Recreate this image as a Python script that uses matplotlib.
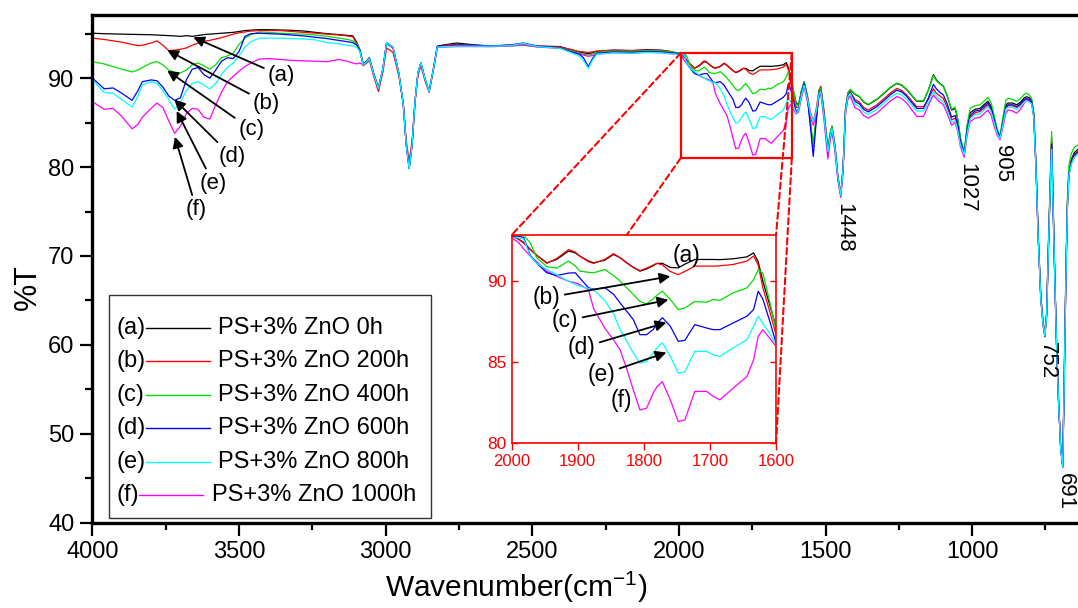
import matplotlib
matplotlib.use("Agg")
import matplotlib.pyplot as plt
from matplotlib.patches import Rectangle, ConnectionPatch
from matplotlib.ticker import MultipleLocator

plt.rcParams['font.family'] = ['Liberation Sans', 'DejaVu Sans']
plt.rcParams['mathtext.default'] = 'regular'

# ---------------------------------------------------------------- data
# wavenumber grid (cm-1), shared by all six spectra
wavenumber = [
    4000, 3960, 3930, 3900, 3865, 3845, 3830, 3800, 3780, 3760, 3740, 3720,
    3700, 3680, 3660, 3640, 3620, 3600, 3580, 3560, 3540, 3520, 3500, 3480,
    3460, 3430, 3400, 3360, 3320, 3280, 3240, 3200, 3160, 3130, 3112, 3100,
    3088, 3077, 3065, 3056, 3040, 3025, 3010, 2997, 2975, 2955, 2940, 2930,
    2920, 2910, 2900, 2890, 2880, 2866, 2852, 2838, 2824, 2800, 2758, 2700,
    2644, 2580, 2531, 2480, 2405, 2371, 2340, 2326, 2309, 2295, 2280, 2224,
    2160, 2110, 2060, 2030,
    2000, 1990, 1982, 1972, 1962, 1947, 1932, 1914, 1904, 1897, 1884, 1876,
    1859, 1846, 1836, 1826, 1816, 1806, 1796, 1786, 1780, 1772, 1760, 1748,
    1738, 1723, 1705, 1695, 1685, 1665, 1644, 1634, 1627, 1620, 1610, 1600,
    1592, 1582, 1573, 1562, 1550, 1542, 1532, 1522, 1516, 1505, 1492, 1484,
    1478, 1468, 1458, 1448, 1440, 1432, 1424, 1416,
    1400, 1384, 1370, 1354, 1340, 1325, 1300, 1280, 1257, 1240, 1223, 1205,
    1189, 1166, 1150, 1140, 1132, 1122, 1110, 1098, 1085, 1070, 1058, 1050,
    1040, 1027, 1017, 1007, 990, 973, 960, 946, 935, 925, 915, 905,
    895, 885, 877, 862, 848, 835, 822, 814, 805, 797,
    790, 782, 775, 766, 758, 752, 746, 740, 734, 729, 724, 718,
    712, 705, 698, 691, 686, 680, 675, 670, 662, 652, 639,
]

# %T of each sample
t_0h = [
    95.05, 95.0, 94.98, 94.95, 94.92, 94.9, 94.9, 94.88, 94.85, 94.82, 94.78, 94.75,
    94.7, 94.78, 94.7, 94.8, 94.9, 94.95, 95.0, 95.05, 95.1, 95.15, 95.25, 95.35,
    95.4, 95.45, 95.45, 95.42, 95.38, 95.3, 95.15, 95.0, 94.9, 94.8, 94.75, 94.1,
    93.2, 91.6, 91.9, 92.25, 90.4, 88.85, 91.0, 93.95, 93.4, 90.5, 87.0, 82.5,
    79.9, 82.5, 87.4, 90.6, 91.7, 89.9, 88.5, 90.9, 93.6, 93.75, 93.95, 93.75,
    93.6, 93.7, 93.8, 93.6, 93.55, 93.2, 92.9, 92.85, 92.75, 92.85, 93.0, 93.15,
    93.1, 93.2, 93.15, 93.0,
    92.78, 92.6, 92.4, 91.96, 91.6, 91.13, 91.34, 91.86, 91.75, 91.55, 91.25, 91.13,
    91.3, 91.65, 91.45, 91.13, 90.85, 90.62, 90.75, 90.95, 91.1, 91.1, 90.85, 90.82,
    91.05, 91.34, 91.34, 91.34, 91.33, 91.38, 91.5, 91.75, 91.2, 90.0, 88.6, 87.2,
    87.0, 88.6, 89.6, 88.0, 84.5, 82.3, 85.5, 88.6, 88.9, 86.0, 82.0, 83.8,
    84.6, 82.5, 79.0, 76.9, 80.0, 86.5, 88.3, 88.7,
    88.2, 87.9, 87.3, 87.0, 87.3, 87.6, 88.3, 88.9, 89.4, 89.2, 88.7, 88.0,
    87.4, 87.4, 88.6, 89.6, 90.4, 89.8, 89.4, 89.1, 88.0, 86.4, 86.6, 85.5,
    83.2, 81.6, 84.5, 86.1, 86.5, 86.6, 87.0, 87.4, 86.8, 85.5, 84.2, 83.4,
    85.3, 87.0, 87.2, 87.2, 87.0, 87.3, 87.8, 87.9, 87.8, 87.5,
    86.0, 80.0, 72.5, 65.5, 62.5, 61.2, 63.5, 71.0, 78.0, 83.4, 76.0, 67.5,
    60.0, 53.5, 48.5, 46.4, 56.0, 68.5, 76.0, 79.5, 80.8, 81.6, 82.0,
]

t_200h = [
    94.5, 94.35, 94.2, 94.05, 93.8, 93.65, 93.7, 93.95, 94.2, 93.7, 93.1, 93.15,
    93.25, 93.4, 93.7, 93.95, 94.15, 94.25, 94.4, 94.55, 94.75, 94.95, 95.1, 95.2,
    95.3, 95.35, 95.35, 95.35, 95.25, 95.15, 95.05, 94.95, 94.85, 94.75, 94.65, 93.95,
    93.1, 91.4, 91.7, 92.0, 90.1, 88.5, 90.6, 93.4, 92.9, 90.2, 87.2, 83.0,
    80.6, 83.0, 87.4, 90.3, 91.4, 89.7, 88.4, 90.8, 93.5, 93.7, 93.8, 93.7,
    93.6, 93.7, 93.8, 93.6, 93.5, 93.25, 93.0, 92.95, 92.9, 92.95, 93.05, 93.15,
    93.1, 93.15, 93.1, 93.0,
    92.78, 92.6, 92.35, 91.96, 91.6, 91.1, 91.4, 91.95, 91.8, 91.55, 91.2, 91.1,
    91.35, 91.7, 91.45, 91.15, 90.85, 90.65, 90.8, 91.0, 91.1, 91.0, 90.6, 90.41,
    90.6, 90.93, 90.93, 90.93, 90.95, 91.03, 91.24, 91.55, 91.0, 89.6, 88.2, 86.7,
    86.7, 88.5, 89.5, 88.0, 86.0, 85.1, 86.5, 88.7, 89.1, 86.3, 81.8, 83.6,
    84.3, 82.3, 78.9, 76.85, 80.0, 86.3, 88.0, 88.5,
    87.6, 87.3, 86.7, 86.4, 86.7, 87.0, 87.7, 88.3, 88.85, 88.6, 88.1, 87.4,
    86.8, 86.8, 87.6, 88.3, 88.8, 88.3, 88.0, 87.7, 86.7, 85.3, 85.5, 84.6,
    82.7, 81.5, 84.0, 85.6, 86.1, 86.25, 86.6, 87.0, 86.4, 85.2, 84.0, 83.35,
    85.0, 86.7, 86.9, 86.9, 86.7, 87.0, 87.5, 87.65, 87.5, 87.25,
    85.8, 79.8, 72.4, 65.4, 62.4, 61.2, 63.4, 70.8, 77.6, 83.0, 75.8, 67.4,
    59.9, 53.4, 48.4, 46.35, 56.0, 68.3, 75.8, 79.3, 80.6, 81.4, 81.8,
]

t_400h = [
    91.85, 91.6, 91.3, 91.0, 90.7, 90.9, 91.2, 91.7, 91.85, 91.5, 90.9, 90.65,
    90.6, 90.9, 91.5, 91.7, 91.4, 91.0, 91.5, 92.3, 92.5, 92.8, 93.8, 94.5,
    94.9, 95.2, 95.15, 95.05, 95.0, 94.95, 94.85, 94.7, 94.5, 94.35, 94.2, 93.9,
    93.2, 91.6, 91.9, 92.25, 90.4, 88.85, 91.0, 93.9, 93.4, 90.5, 87.0, 82.5,
    79.85, 82.5, 87.4, 90.6, 91.7, 89.9, 88.5, 90.9, 93.5, 93.55, 93.6, 93.6,
    93.55, 93.6, 93.7, 93.5, 93.4, 93.1, 92.85, 92.7, 92.6, 92.7, 92.9, 93.05,
    93.0, 93.1, 93.05, 92.95,
    92.85, 92.85, 92.85, 92.37, 91.44, 90.9, 90.8, 91.24, 90.95, 90.62, 90.55, 90.52,
    90.72, 90.35, 90.0, 89.6, 89.18, 88.75, 88.6, 88.9, 89.15, 89.38, 88.87, 88.25,
    88.35, 88.75, 88.7, 88.87, 88.82, 89.28, 89.59, 90.1, 90.7, 90.5, 88.8, 87.0,
    86.9, 88.6, 89.6, 88.0, 84.6, 82.4, 85.5, 88.6, 88.9, 86.0, 82.0, 83.8,
    84.6, 82.5, 79.0, 76.9, 80.0, 86.5, 88.3, 88.75,
    88.25, 87.95, 87.35, 87.05, 87.35, 87.65, 88.35, 88.95, 89.45, 89.25, 88.75, 88.05,
    87.45, 87.45, 88.6, 89.5, 90.3, 89.7, 89.35, 89.05, 88.0, 86.5, 86.75, 85.6,
    83.3, 81.6, 84.8, 86.6, 86.9, 87.0, 87.4, 87.85, 87.2, 85.8, 84.3, 83.45,
    85.6, 87.5, 87.75, 87.6, 87.4, 87.7, 88.2, 88.3, 88.1, 87.7,
    86.2, 80.2, 72.6, 65.6, 62.6, 61.3, 63.6, 71.2, 78.3, 84.0, 76.3, 67.6,
    60.0, 53.5, 48.5, 46.4, 56.2, 69.0, 76.8, 80.2, 81.5, 82.2, 82.5,
]

t_600h = [
    90.0, 88.8, 88.9, 88.3, 87.5, 88.6, 89.6, 89.8, 89.7, 89.0, 88.0, 87.5,
    87.8, 89.8, 91.0, 91.2, 90.4, 90.0, 90.9, 91.9, 92.3, 92.2, 93.0, 94.7,
    95.0, 95.05, 95.0, 94.95, 94.85, 94.75, 94.6, 94.45, 94.25, 94.1, 94.0, 93.75,
    93.1, 91.6, 91.9, 92.3, 90.4, 88.9, 91.0, 94.0, 93.5, 90.5, 87.0, 82.5,
    79.85, 82.5, 87.4, 90.6, 91.75, 89.9, 88.5, 90.9, 93.55, 93.6, 93.7, 93.7,
    93.65, 93.7, 93.95, 93.6, 93.4, 93.0, 92.7, 92.3, 91.3, 92.2, 92.8, 92.95,
    92.9, 93.0, 92.95, 92.85,
    92.78, 92.78, 92.7, 91.6, 91.1, 90.52, 90.35, 90.5, 90.52, 90.2, 89.6, 89.5,
    89.6, 89.2, 88.66, 88.15, 87.63, 86.7, 86.7, 87.01, 87.4, 87.75, 87.22, 86.29,
    86.35, 87.32, 87.11, 87.01, 87.01, 87.42, 87.84, 88.25, 89.38, 88.9, 87.6, 86.19,
    86.5, 88.3, 89.4, 87.8, 84.0, 81.2, 85.0, 88.3, 88.6, 85.7, 81.6, 83.5,
    84.2, 82.2, 78.8, 76.8, 79.9, 86.3, 88.0, 88.4,
    87.4, 87.1, 86.5, 86.2, 86.5, 86.8, 87.5, 88.1, 88.65, 88.45, 87.95, 87.2,
    86.6, 86.6, 87.7, 88.6, 89.3, 88.8, 88.4, 88.1, 87.1, 85.6, 85.8, 84.9,
    82.9, 81.5, 84.2, 85.8, 86.3, 86.4, 86.8, 87.2, 86.6, 85.3, 84.1, 83.35,
    85.1, 86.8, 87.0, 87.0, 86.8, 87.1, 87.6, 87.7, 87.6, 87.3,
    85.8, 79.8, 72.3, 65.3, 62.2, 60.9, 63.3, 70.8, 77.5, 82.6, 75.7, 67.3,
    59.8, 53.3, 48.3, 46.3, 55.9, 68.2, 75.7, 79.2, 80.5, 81.3, 81.7,
]

t_800h = [
    89.8, 88.4, 88.3, 87.6, 86.75, 88.0, 89.25, 89.6, 89.4, 88.6, 87.6, 86.5,
    87.3, 88.6, 89.4, 89.6, 89.2, 88.8, 89.4, 90.4, 91.2, 91.7, 92.5, 93.5,
    94.1, 94.5, 94.5, 94.5, 94.45, 94.4, 94.3, 94.0, 93.85, 93.7, 93.6, 93.5,
    93.0, 91.5, 91.85, 92.2, 90.35, 88.85, 91.0, 94.0, 93.5, 90.5, 87.0, 82.5,
    79.8, 82.5, 87.4, 90.6, 91.75, 89.9, 88.5, 90.9, 93.5, 93.55, 93.6, 93.6,
    93.6, 93.65, 93.9, 93.55, 93.35, 92.9, 92.5, 92.0, 91.1, 92.0, 92.7, 92.85,
    92.8, 92.9, 92.85, 92.75,
    92.68, 92.68, 92.6, 91.55, 91.1, 90.72, 90.4, 90.0, 89.8, 89.69, 89.55, 89.48,
    88.8, 88.0, 87.01, 86.3, 85.57, 84.95, 85.05, 85.57, 85.9, 86.2, 85.36, 84.33,
    84.4, 85.67, 85.67, 85.46, 85.36, 85.88, 86.39, 87.22, 87.84, 87.4, 86.8, 86.08,
    86.4, 88.1, 89.2, 87.7, 85.8, 85.1, 86.2, 88.2, 88.5, 85.6, 81.7, 83.5,
    84.3, 82.2, 78.8, 76.8, 79.9, 86.2, 87.9, 88.3,
    87.1, 86.8, 86.2, 85.9, 86.2, 86.5, 87.2, 87.8, 88.3, 88.1, 87.6, 86.9,
    86.3, 86.3, 87.2, 87.9, 88.5, 88.0, 87.6, 87.3, 86.3, 85.0, 85.2, 84.3,
    82.5, 81.4, 83.8, 85.4, 85.9, 86.0, 86.4, 86.8, 86.2, 85.0, 83.8, 83.2,
    84.8, 86.5, 86.7, 86.7, 86.5, 86.8, 87.3, 87.45, 87.3, 87.1,
    85.6, 79.6, 72.2, 65.2, 62.2, 61.0, 63.2, 70.6, 77.2, 82.0, 75.5, 67.2,
    59.8, 53.3, 48.3, 46.3, 55.8, 68.0, 75.5, 79.0, 80.3, 81.1, 81.5,
]

t_1000h = [
    87.35, 86.5, 86.6, 85.7, 84.3, 84.8, 85.6, 86.6, 87.2, 86.7, 85.2, 83.8,
    84.6, 86.0, 86.6, 86.5, 85.6, 85.4, 87.0, 88.4, 89.6, 90.2, 90.8, 91.3,
    91.7, 92.15, 92.2, 92.1, 92.0, 91.95, 91.9, 91.85, 92.1, 91.9, 91.7, 91.6,
    91.7, 91.5, 91.85, 92.2, 90.35, 88.85, 91.0, 93.9, 93.4, 90.5, 87.0, 82.5,
    79.85, 82.5, 87.4, 90.6, 91.7, 89.9, 88.5, 90.9, 93.5, 93.5, 93.55, 93.55,
    93.55, 93.6, 93.75, 93.5, 93.35, 93.0, 92.75, 92.6, 92.45, 92.55, 92.7, 92.85,
    92.8, 92.9, 92.85, 92.75,
    92.68, 92.4, 92.0, 91.55, 91.2, 90.62, 90.3, 90.0, 89.9, 89.79, 89.48, 88.3,
    87.1, 86.39, 85.77, 84.6, 83.3, 82.06, 82.16, 83.09, 83.5, 83.8, 82.68, 81.34,
    81.44, 83.2, 83.2, 82.89, 82.68, 83.4, 84.12, 85.15, 86.6, 87.0, 86.5, 85.98,
    86.2, 87.8, 89.0, 87.4, 85.4, 84.7, 85.8, 87.9, 88.2, 85.2, 80.9, 83.0,
    84.0, 81.8, 78.5, 76.6, 79.7, 85.9, 87.6, 88.0,
    86.7, 86.4, 85.8, 85.5, 85.8, 86.06, 86.8, 87.4, 87.93, 87.7, 87.19, 86.4,
    85.7, 85.7, 86.9, 87.6, 88.1, 87.7, 87.3, 87.0, 86.0, 84.7, 85.0, 84.1,
    82.3, 81.1, 83.6, 85.1, 85.5, 85.6, 86.0, 86.4, 85.8, 84.6, 83.6, 83.06,
    84.5, 86.1, 86.43, 86.3, 86.06, 86.5, 87.2, 87.5, 87.4, 87.2,
    85.6, 79.6, 72.2, 65.2, 62.3, 61.0, 63.3, 70.7, 77.4, 82.5, 75.6, 67.2,
    59.8, 53.3, 48.3, 46.2, 55.8, 68.0, 75.5, 79.0, 80.3, 81.1, 81.5,
]

tags = ['(a)', '(b)', '(c)', '(d)', '(e)', '(f)']
labels = ['PS+3% ZnO 0h', 'PS+3% ZnO 200h', 'PS+3% ZnO 400h',
          'PS+3% ZnO 600h', 'PS+3% ZnO 800h', 'PS+3% ZnO 1000h']
colors = ['#000000', '#ff0000', '#00e000', '#0000ff', '#00ffff', '#ff00ff']
peak_wavenumbers = [1448, 1027, 905, 752, 691]

series = [t_0h, t_200h, t_400h, t_600h, t_800h, t_1000h]
for s in series:
    assert len(s) == len(wavenumber)

draw_order = [0, 1, 2, 5, 3, 4]

# ---------------------------------------------------------------- main axes
fig = plt.figure(figsize=(10.78, 6.08), dpi=100)
ax = fig.add_axes([0.0858, 0.1403, 0.9142, 0.8350])

for i in draw_order:
    ax.plot(wavenumber, series[i], color=colors[i], lw=0.9, zorder=2)

ax.set_xlim(4000, 639)
ax.set_ylim(40, 97.1)
ax.xaxis.set_major_locator(MultipleLocator(500))
ax.xaxis.set_minor_locator(MultipleLocator(250))
ax.yaxis.set_major_locator(MultipleLocator(10))
ax.yaxis.set_minor_locator(MultipleLocator(5))
ax.tick_params(which='major', direction='out', length=9, width=1.6,
               labelsize=17, pad=4)
ax.tick_params(which='minor', direction='out', length=5, width=1.6)
for side in ['left', 'bottom', 'top']:
    ax.spines[side].set_linewidth(2.4)
ax.spines['right'].set_visible(False)

ax.text(-0.066, 0.464, '%T', rotation=90, transform=ax.transAxes,
        ha='center', va='center', fontsize=22)
ax.text(0.43, -0.128, r'Wavenumber(cm$^{-1}$)', transform=ax.transAxes,
        ha='center', va='center', fontsize=21.5)

# peak assignments written under each band
for p in peak_wavenumbers:
    k = wavenumber.index(p)
    low = min(s[k] for s in series)
    ax.annotate(str(p), xy=(p, low), xytext=(2, -4), textcoords='offset points',
                rotation=270, ha='center', va='top', fontsize=16)

# sample tags with arrows pointing to each trace
arrow_kw = dict(arrowstyle='-|>', color='black', lw=1.3, mutation_scale=16,
                shrinkA=1, shrinkB=0)
main_tag_text = [(3355, 90.26), (3406, 87.2), (3457, 84.2),
                 (3525, 81.2), (3588, 78.2), (3645, 75.2)]
main_tag_tip = [(3656, 94.6), (3745, 93.15), (3745, 90.85),
                (3721, 87.6), (3713, 86.3), (3719, 83.4)]
for tag, xt, xy in zip(tags, main_tag_text, main_tag_tip):
    ax.annotate(tag, xy=xy, xytext=xt, ha='center', va='center',
                fontsize=16, arrowprops=arrow_kw, zorder=6)

# framed key: tag, line sample, description
ax.add_patch(Rectangle((0.0167, 0.0093), 0.3265, 0.4392, transform=ax.transAxes,
                       facecolor='white', edgecolor='#333333', lw=1.0, zorder=5))
row_top, row_step = 0.3835, 0.06578
line_x0 = [0.0543, 0.0543, 0.0543, 0.0543, 0.0543, 0.0472]
line_x1 = [0.1192, 0.1192, 0.1192, 0.1192, 0.1192, 0.1121]
text_x = [0.1273, 0.1273, 0.1273, 0.1273, 0.1273, 0.1213]
for i in range(6):
    y = row_top - i * row_step
    ax.text(0.0239, y, tags[i], transform=ax.transAxes, ha='left', va='center',
            fontsize=17, zorder=6)
    ax.plot([line_x0[i], line_x1[i]], [y, y], transform=ax.transAxes,
            color=colors[i], lw=1.0, zorder=6)
    ax.text(text_x[i], y, labels[i], transform=ax.transAxes, ha='left',
            va='center', fontsize=17, zorder=6)

# zoom window around the carbonyl region
zoom_x = (1615, 1994)
zoom_y = (81.0, 92.81)
ax.add_patch(Rectangle((zoom_x[0], zoom_y[0]), zoom_x[1] - zoom_x[0],
                       zoom_y[1] - zoom_y[0], fill=False, edgecolor='red',
                       lw=1.6, zorder=4))

# ---------------------------------------------------------------- inset
axin = fig.add_axes([0.4747, 0.2709, 0.2452, 0.3426])
for i in draw_order:
    axin.plot(wavenumber, series[i], color=colors[i], lw=0.9)
axin.set_xlim(2000, 1600)
axin.set_ylim(80, 92.85)
axin.xaxis.set_major_locator(MultipleLocator(100))
axin.yaxis.set_major_locator(MultipleLocator(5))
for sp in axin.spines.values():
    sp.set_color('red')
    sp.set_linewidth(1.2)
axin.tick_params(axis='x', direction='out', length=5, width=1, color='red',
                 labelcolor='red', labelsize=12, pad=3)
axin.tick_params(axis='y', direction='in', length=4, width=1, color='red',
                 labelcolor='red', labelsize=12.5, pad=4, right=True)

inset_tag_text = [(1735, 91.6), (1947, 88.98), (1919, 87.55),
                  (1894, 85.9), (1864, 84.24), (1834, 82.65)]
inset_tag_tip = [None, (1760, 90.3), (1763, 88.85), (1766, 87.45),
                 (1766, 85.6), None]
for tag, xt, xy in zip(tags, inset_tag_text, inset_tag_tip):
    if xy is None:
        axin.text(xt[0], xt[1], tag, ha='center', va='center', fontsize=16.5)
    else:
        axin.annotate(tag, xy=xy, xytext=xt, ha='center', va='center',
                      fontsize=16.5, arrowprops=arrow_kw)

# dashed guides from the zoom window to the inset
dash = dict(color='red', lw=1.5, linestyle=(0, (3, 1.8)), zorder=3)
guides = [((zoom_x[1], zoom_y[1]), (0.0, 1.0)),
          ((zoom_x[1], zoom_y[0]), (0.435, 1.0)),
          ((zoom_x[0], zoom_y[1]), (1.0, 1.0)),
          ((zoom_x[0], zoom_y[0]), (1.0, 0.0))]
for a, b in guides:
    fig.add_artist(ConnectionPatch(xyA=a, coordsA=ax.transData,
                                   xyB=b, coordsB=axin.transAxes, **dash))

fig.savefig('out.png', dpi=100)
